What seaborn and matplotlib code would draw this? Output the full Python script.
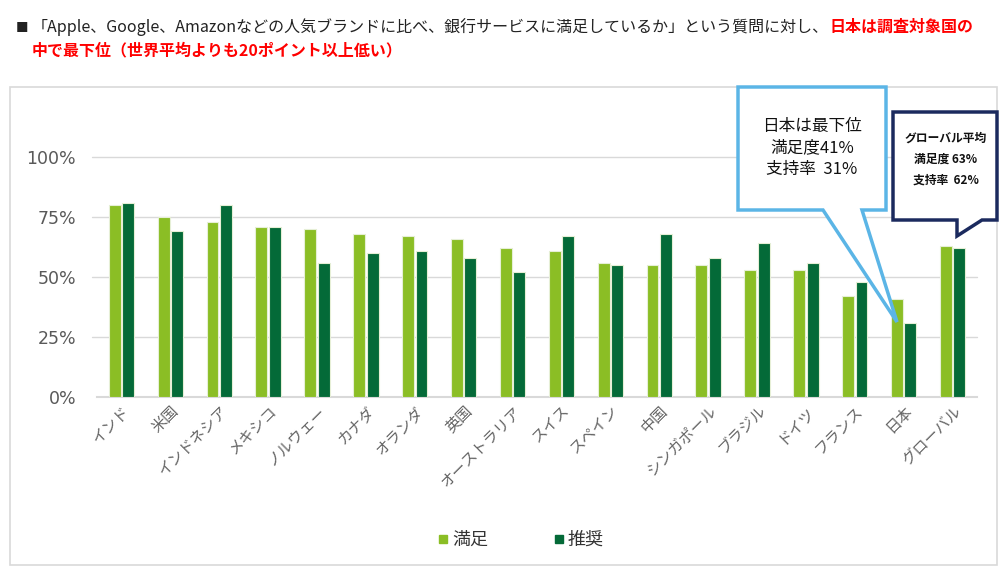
import numpy as np
import pandas as pd
import matplotlib
matplotlib.use("Agg")
import matplotlib.pyplot as plt
from matplotlib.patches import Polygon, Rectangle
from matplotlib.lines import Line2D
import seaborn as sns

# data
countries = ["インド", "米国", "インドネシア", "メキシコ", "ノルウェー", "カナダ", "オランダ",
             "英国", "オーストラリア", "スイス", "スペイン", "中国", "シンガポール", "ブラジル",
             "ドイツ", "フランス", "日本", "グローバル"]
satisfied = [80, 75, 73, 71, 70, 68, 67, 66, 62, 61, 56, 55, 55, 53, 53, 42, 41, 63]
recommend = [81, 69, 80, 71, 56, 60, 61, 58, 52, 67, 55, 68, 58, 64, 56, 48, 31, 62]
series = ["満足", "推奨"]
colors = ["#8BBE25", "#046A38"]

df = pd.DataFrame({
    "country": countries * 2,
    "series": [series[0]] * len(countries) + [series[1]] * len(countries),
    "value": [v / 100 for v in satisfied + recommend],
})

sns.set_theme(style="white")
plt.rcParams["font.family"] = ["Noto Sans CJK JP", "DejaVu Sans"]

W, H = 1000, 568
fig = plt.figure(figsize=(W / 100, H / 100), dpi=100)


def fx(x):
    return x / W


def fy(y):
    return 1 - y / H


# outer frame
fig.patches.append(Rectangle((fx(10), fy(565)), fx(987), 478 / H, transform=fig.transFigure,
                             fill=False, edgecolor="#d9d9d9", linewidth=1.2))

ax = fig.add_axes([fx(97), fy(397), fx(880), 240 / H])
sns.barplot(data=df, x="country", y="value", hue="series", palette=colors, saturation=1,
            width=0.55, gap=0.12, edgecolor="#e6efd6", linewidth=0.8, ax=ax,
            legend=False, zorder=3)
ax.set_xlim(-0.5, len(countries) - 0.5)
ax.set_ylim(0, 1.0)
ax.set_yticks([0, 0.25, 0.5, 0.75, 1.0])
ax.set_yticklabels(["0%", "25%", "50%", "75%", "100%"], fontsize=12.5, color="#595959",
                   family=["DejaVu Sans"])
ax.tick_params(axis="y", length=0, pad=15)
ax.tick_params(axis="x", length=0, pad=4)
ax.set_xlabel("")
ax.set_ylabel("")
for lab in ax.get_xticklabels():
    lab.set_rotation(45)
    lab.set_ha("right")
    lab.set_rotation_mode("anchor")
    lab.set_fontsize(11)
    lab.set_color("#666666")
for y in [0.25, 0.5, 0.75, 1.0]:
    ax.axhline(y, xmin=-0.006, color="#d9d9d9", linewidth=1, zorder=1, clip_on=False)
for s in ["top", "right", "left"]:
    ax.spines[s].set_visible(False)
ax.spines["bottom"].set_color("#d9d9d9")
ax.spines["bottom"].set_linewidth(1.5)
ax.patch.set_alpha(0)

# title
fig.text(fx(16), fy(28), "■", fontsize=9, color="#222222", va="center")
t1 = fig.text(fx(32), fy(27),
              "「Apple、Google、Amazonなどの人気ブランドに比べ、銀行サービスに満足しているか」という質問に対し、",
              fontsize=11.5, color="#222222", va="center")
fig.canvas.draw()
bb = t1.get_window_extent()
fig.text(bb.x1 / W, fy(27), "日本は調査対象国の", fontsize=11.5, color="#ff0000",
         fontweight="bold", va="center")
fig.text(fx(32), fy(50), "中で最下位（世界平均よりも20ポイント以上低い）", fontsize=11.5,
         color="#ff0000", fontweight="bold", va="center")

# callout for Japan
jp = [(738, 87), (886, 87), (886, 210), (862, 210), (897, 322), (823, 210), (738, 210)]
fig.patches.append(Polygon([(fx(x), fy(y)) for x, y in jp], closed=True, transform=fig.transFigure,
                           facecolor="white", edgecolor="#5BB5E6", linewidth=2.5, zorder=5))
for i, line in enumerate(["日本は最下位", "満足度41%", "支持率  31%"]):
    fig.text(fx(812), fy(126 + 22 * i), line, fontsize=12, ha="center", va="center",
             color="#111111", zorder=6)

# callout for global average
gl = [(893, 112), (997, 112), (997, 220), (982, 220), (957, 236), (957, 220), (893, 220)]
fig.patches.append(Polygon([(fx(x), fy(y)) for x, y in gl], closed=True, transform=fig.transFigure,
                           facecolor="white", edgecolor="#1B2A5E", linewidth=2.5, zorder=5))
for i, line in enumerate(["グローバル平均", "満足度 63%", "支持率  62%"]):
    fig.text(fx(946), fy(138 + 21 * i), line, fontsize=8.5, ha="center", va="center",
             color="#111111", fontweight="bold", zorder=6)

# legend
handles = [Line2D([], [], marker="s", linestyle="none", markersize=6, color=c) for c in colors]
fig.legend(handles, series, loc="center", bbox_to_anchor=(fx(520), fy(540)), ncol=2,
           frameon=False, fontsize=13, handlelength=0.8, handletextpad=0.1, columnspacing=3.5,
           labelcolor="#333333")

fig.savefig("out.png", dpi=100)
